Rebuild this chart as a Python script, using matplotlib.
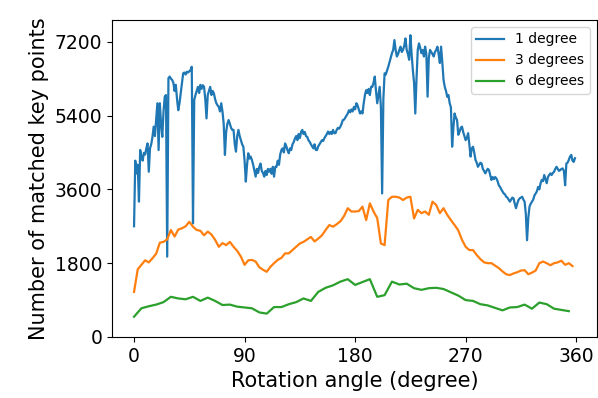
import numpy as np
import matplotlib
matplotlib.use("Agg")
import matplotlib.pyplot as plt

angles_1 = list(range(0, 360, 1))
angles_3 = list(range(0, 360, 3))
angles_6 = list(range(0, 360, 6))

matched_1deg = [
    2700, 4300, 3990, 4200, 3300, 4560, 4400, 4300, 4490, 4450,
    4600, 4720, 4030, 4600, 4700, 4880, 5130, 4900, 5300, 5700,
    4560, 5700, 5200, 4880, 5500, 5860, 5900, 1960, 6310, 6350,
    6300, 6270, 6200, 6000, 6150, 5800, 5530, 5700, 5940, 6200,
    6430, 6450, 6400, 6470, 6450, 6480, 6510, 6590, 2770, 5780,
    5900, 6000, 6100, 5950, 6150, 6050, 6140, 6100, 5800, 5330,
    5900, 6000, 6100, 5900, 6000, 5940, 5800, 5700, 5650, 5610,
    5500, 5700, 5500, 5200, 4440, 5000, 5200, 5290, 5200, 5100,
    5050, 5050, 4700, 4520, 4900, 5050, 4900, 4800, 4700, 4640,
    4300, 3790, 4200, 4480, 4350, 4400, 4310, 4200, 4050, 3910,
    4100, 4000, 4150, 4230, 4050, 4000, 3910, 4050, 3950, 4100,
    4030, 4100, 3980, 4150, 3910, 4150, 4150, 4300, 4200, 4450,
    4560, 4600, 4500, 4720, 4650, 4550, 4480, 4600, 4560, 4700,
    4750, 4840, 4900, 4800, 4950, 4850, 5000, 5050, 4950, 5000,
    4900, 4880, 4800, 4760, 4700, 4650, 4600, 4700, 4560, 4560,
    4650, 4700, 4750, 4800, 4780, 4850, 4900, 4950, 5010, 4950,
    5000, 4950, 5050, 4970, 4970, 5050, 5100, 5080, 5130, 5200,
    5290, 5300, 5350, 5400, 5450, 5530, 5480, 5550, 5500, 5610,
    5550, 5700, 5650, 5550, 5450, 5500, 5450, 5700, 5900, 6020,
    5950, 6050, 5900, 6100, 6100, 6200, 6350, 6000, 5700, 5900,
    6100, 5600, 3500, 5800, 6430, 6400, 6500, 6590, 6700, 6800,
    6920, 7000, 7240, 7000, 6840, 6900, 7000, 7080, 6950, 7000,
    7100, 7280, 7000, 6900, 6760, 7360, 6900, 6510, 6200, 5450,
    6300, 7000, 7160, 7050, 6920, 7000, 6840, 7080, 6900, 5860,
    6800, 7000, 6950, 6900, 6840, 6950, 7000, 7080, 6900, 6680,
    7080, 6700, 6270, 6100, 6000, 5860, 5900, 5700, 5600, 4640,
    5100, 5450, 5350, 5290, 4930, 5000, 5100, 5130, 5000, 4900,
    4800, 4850, 4970, 4700, 4400, 4600, 4640, 4500, 4320, 4250,
    4150, 4200, 4250, 4230, 4100, 4050, 3990, 4050, 4100, 4070,
    3950, 3830, 3900, 3850, 3900, 3870, 3800, 3700, 3660, 3600,
    3550, 3500, 3480, 3420, 3400, 3350, 3300, 3350, 3400, 3380,
    3250, 3140, 3250, 3340, 3380, 3400, 3420, 3350, 3300, 3000,
    2360, 2900, 3180, 3250, 3300, 3350, 3450, 3500, 3550, 3660,
    3600, 3750, 3830, 3800, 3950, 3850, 3750, 3900, 3950, 3990,
    3950, 4000, 4030, 4100, 4150, 4100, 4050, 4070, 4100, 4110,
    4050, 3700, 4230, 4250, 4320, 4400, 4440, 4300, 4270, 4360,
]

matched_3deg = [
    1100, 1650, 1760, 1870, 1820, 1920, 2030, 2300, 2320, 2380,
    2610, 2450, 2620, 2650, 2700, 2810, 2690, 2610, 2590, 2480,
    2570, 2500, 2370, 2200, 2290, 2240, 2320, 2200, 2100, 1960,
    1760, 1870, 1880, 1840, 1700, 1640, 1590, 1710, 1800, 1880,
    1930, 2040, 2040, 2120, 2200, 2280, 2320, 2380, 2440, 2330,
    2400, 2480, 2610, 2730, 2690, 2750, 2820, 2950, 3140, 3060,
    3060, 3070, 3180, 2850, 3260, 3060, 2900, 2280, 2240, 3340,
    3420, 3420, 3400, 3340, 3400, 3420, 2890, 3100, 3020, 3060,
    2980, 3300, 3220, 3020, 3140, 2980, 2850, 2730, 2600, 2370,
    2200, 2120, 2120, 2000, 1900, 1820, 1800, 1800, 1740, 1680,
    1600, 1530, 1510, 1550, 1580, 1620, 1630, 1530, 1570, 1620,
    1800, 1840, 1800, 1750, 1800, 1820, 1860, 1760, 1800, 1730,
]

matched_6deg = [
    495, 700, 750, 790, 850, 980, 940, 920, 980, 880,
    960, 880, 780, 790, 740, 720, 700, 600, 570, 730,
    730, 800, 850, 940, 880, 1100, 1200, 1260, 1350, 1410,
    1270, 1340, 1410, 980, 1020, 1350, 1280, 1300, 1190, 1150,
    1190, 1200, 1170, 1090, 1010, 900, 880, 800, 770, 710,
    650, 720, 730, 790, 690, 840, 800, 690, 660, 630,
]

series_labels = ["1 degree", "3 degrees", "6 degrees"]
x_ticks = [0, 90, 180, 270, 360]
y_ticks = [0, 1800, 3600, 5400, 7200]

fig = plt.figure(figsize=(5.98, 3.98), dpi=100)
ax = fig.add_axes([112 / 598, 61 / 398, 485 / 598, 317 / 398])

ax.plot(angles_1, matched_1deg, color="#1f77b4", lw=1.6, label=series_labels[0])
ax.plot(angles_3, matched_3deg, color="#ff7f0e", lw=1.6, label=series_labels[1])
ax.plot(angles_6, matched_6deg, color="#2ca02c", lw=1.6, label=series_labels[2])

ax.set_xticks(x_ticks)
ax.set_yticks(y_ticks)
ax.set_ylim(0, 7730)
ax.tick_params(axis="both", labelsize=13.5)
ax.set_xlabel("Rotation angle (degree)", fontsize=15)
ax.set_ylabel("Number of matched key points", fontsize=15)
ax.legend(loc="upper right", fontsize=10)

fig.savefig("out.png", dpi=100)
